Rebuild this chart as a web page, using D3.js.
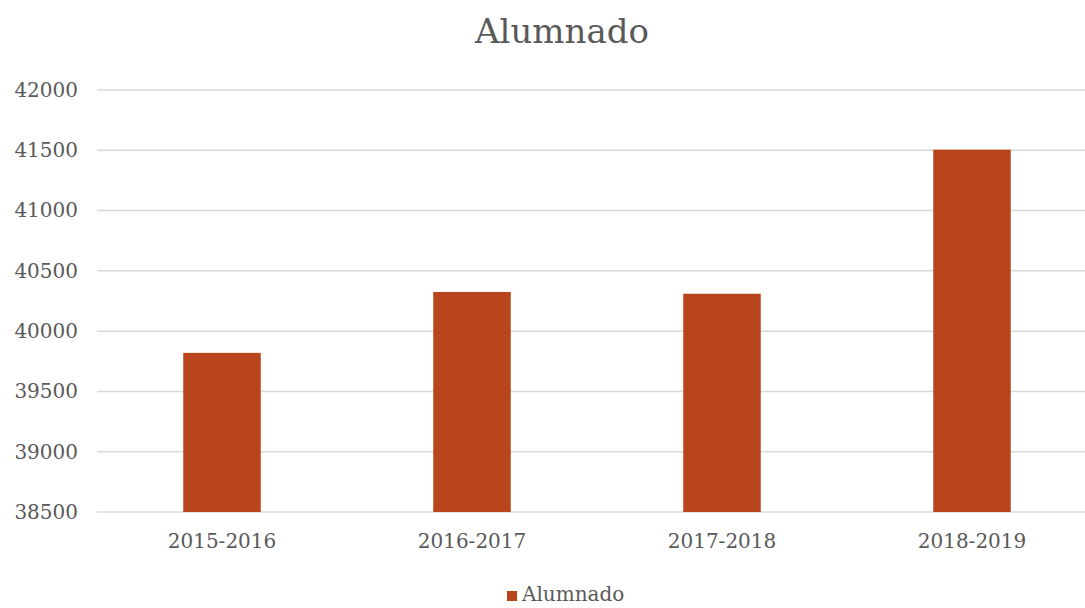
<!DOCTYPE html>
<html>
<head>
<meta charset="utf-8">
<script src="https://cdn.jsdelivr.net/npm/d3@7"></script>
<style>
  body { margin: 0; background: #fff; }
  .vis { width: 1085px; height: 608px; }
  text { font-family: "DejaVu Serif", serif; fill: #595959; }
</style>
</head>
<body>
<div class="vis"></div>
<script>
(function() {
  'use strict';

  var categories = ["2015-2016", "2016-2017", "2017-2018", "2018-2019"];
  var alumnado = [39820, 40325, 40310, 41505];
  var yTicks = [38500, 39000, 39500, 40000, 40500, 41000, 41500, 42000];

  var elWidth = 1085,
    elHeight = 608,
    margin = {top: 90, right: -12, bottom: 96, left: 97},
    width = elWidth - margin.left - margin.right,
    height = elHeight - margin.top - margin.bottom;

  var svg = d3.select('.vis').append('svg')
      .attr('width', elWidth)
      .attr('height', elHeight);

  var g = svg.append('g')
      .attr('transform', 'translate(' + margin.left + ',' + margin.top + ')');

  var x = d3.scaleBand()
    .domain(categories)
    .range([0, width])
    .paddingInner(0.69)
    .paddingOuter(0.345);

  var y = d3.scaleLinear()
    .domain([38500, 42000])
    .range([height, 0]);

  // gridlines
  g.selectAll('.grid')
    .data(yTicks)
    .enter()
    .append('line')
      .attr('x1', 0)
      .attr('x2', width)
      .attr('y1', function(d) { return y(d); })
      .attr('y2', function(d) { return y(d); })
      .attr('stroke', '#d9d9d9')
      .attr('stroke-width', 1.5);

  // y labels
  var yAxis = d3.axisLeft(y).tickValues(yTicks).tickSize(0).tickPadding(19)
    .tickFormat(d3.format('d'));
  g.append('g').call(yAxis)
    .call(function(s) { s.select('.domain').remove(); })
    .selectAll('text')
      .attr('font-size', 20)
      .style('font-family', '"DejaVu Serif", serif')
      .attr('fill', '#595959');

  g.selectAll('.bar')
    .data(alumnado)
    .enter()
    .append('rect')
      .attr('class', 'bar')
      .attr('x', function(d, i) { return x(categories[i]); })
      .attr('width', x.bandwidth())
      .attr('y', function(d) { return y(d); })
      .attr('height', function(d) { return height - y(d); })
      .attr('fill', '#b9451c');

  // x labels
  var xAxis = d3.axisBottom(x).tickSize(0).tickPadding(22);
  g.append('g')
    .attr('transform', 'translate(0,' + height + ')')
    .call(xAxis)
    .call(function(s) { s.select('.domain').remove(); })
    .selectAll('text')
      .attr('font-size', 20)
      .style('font-family', '"DejaVu Serif", serif')
      .attr('fill', '#595959');

  svg.append('text')
    .attr('x', 562)
    .attr('y', 43)
    .attr('text-anchor', 'middle')
    .attr('font-size', 34)
    .text('Alumnado');

  // legend
  var legend = svg.append('g').attr('transform', 'translate(507,591)');
  legend.append('rect')
    .attr('width', 10).attr('height', 10)
    .attr('fill', '#b9451c');
  legend.append('text')
    .attr('x', 15).attr('y', 10)
    .attr('font-size', 20)
    .text('Alumnado');
}());
</script>
</body>
</html>
